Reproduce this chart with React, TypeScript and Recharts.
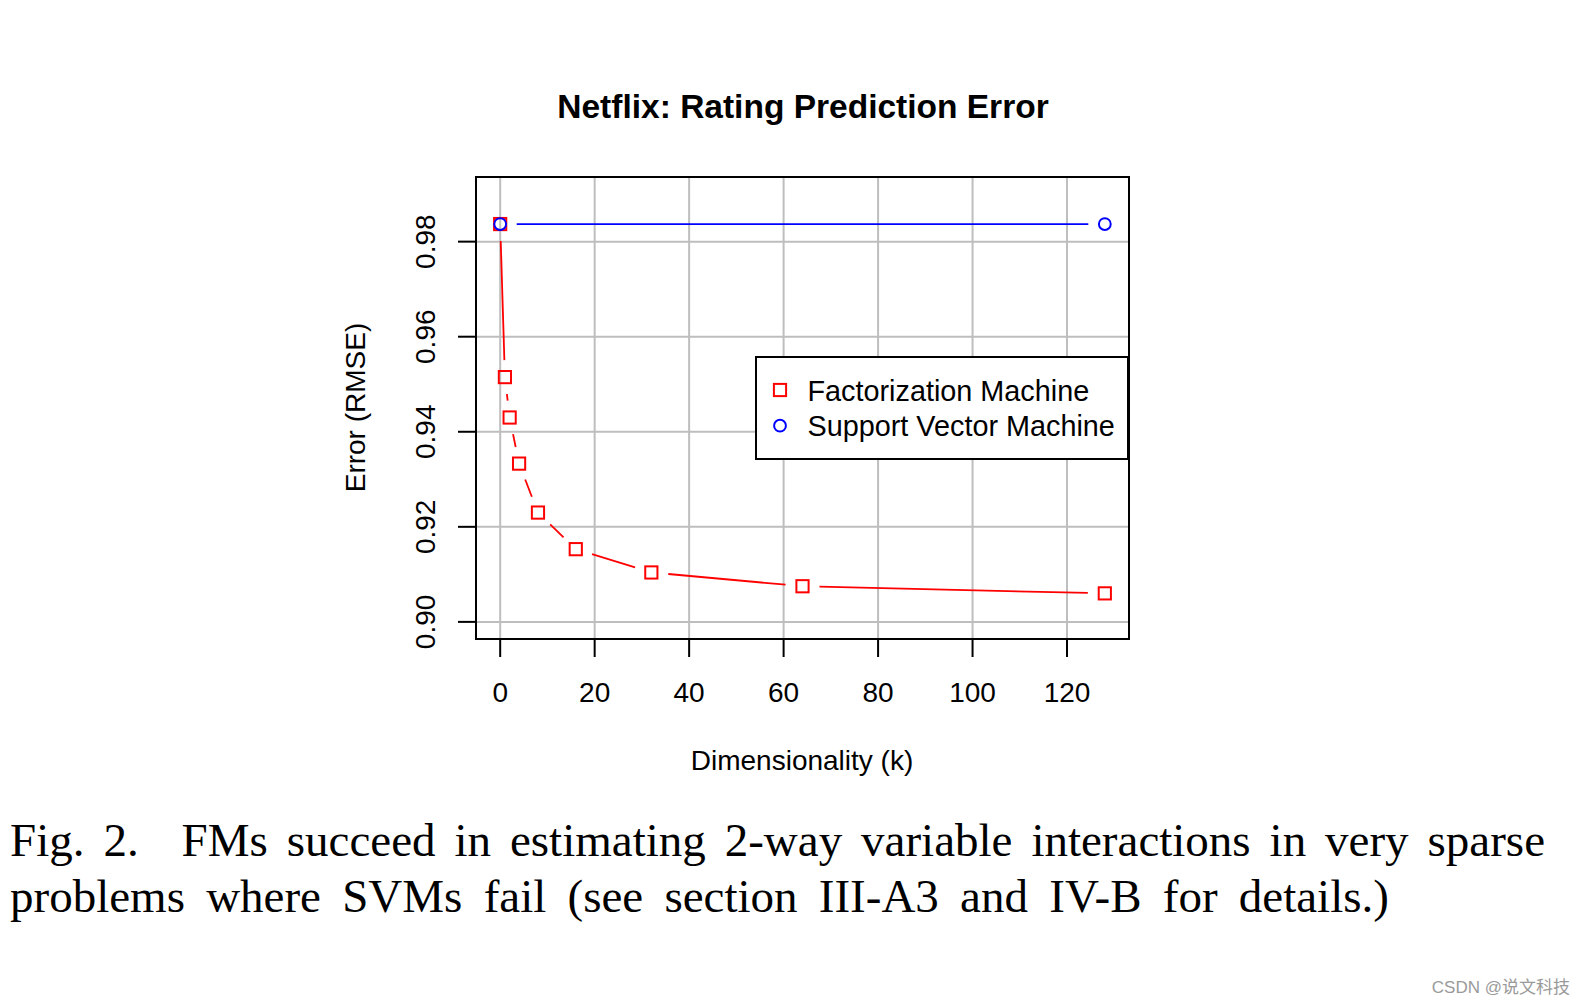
import React from 'react';
import {
  ScatterChart,
  Scatter,
  XAxis,
  YAxis,
  CartesianGrid,
  ReferenceArea,
  Legend,
} from 'recharts';

// ---------- data ----------
const KS = [0, 1, 2, 4, 8, 16, 32, 64, 128];
const FM_RMSE = [0.9837, 0.9515, 0.943, 0.9333, 0.923, 0.9153, 0.9104, 0.9075, 0.906];
const SVM_KS = [0, 128];
const SVM_RMSE = [0.9837, 0.9837];
const X_TICKS = [0, 20, 40, 60, 80, 100, 120];
const Y_TICKS = [0.9, 0.92, 0.94, 0.96, 0.98];
const X_DOMAIN = [-5.12, 133.12];
const Y_DOMAIN = [0.8964, 0.9936];

const TITLE = 'Netflix: Rating Prediction Error';
const X_LABEL = 'Dimensionality (k)';
const Y_LABEL = 'Error (RMSE)';
const FM_NAME = 'Factorization Machine';
const SVM_NAME = 'Support Vector Machine';
const CAPTION_1_HEAD = 'Fig. 2.';
const CAPTION_1_REST = 'FMs succeed in estimating 2-way variable interactions in very sparse';
const CAPTION_2 = 'problems where SVMs fail (see section III-A3 and IV-B for details.)';
const WATERMARK = 'CSDN @说文科技';

const fmData = KS.map((k, i) => ({ k, rmse: FM_RMSE[i] }));
const svmData = SVM_KS.map((k, i) => ({ k, rmse: SVM_RMSE[i] }));

const SANS = '"Liberation Sans", Arial, Helvetica, sans-serif';
const SERIF = '"Liberation Serif", "Times New Roman", serif';
const RED = '#FF0000';
const BLUE = '#0000FF';
const GRID = '#BEBEBE';
const SQ = 12.2;

// line drawn with gaps around the markers (R type = "b")
function GappedLine(props: any) {
  const { points, stroke, gap } = props;
  const segs: any[] = [];
  if (!points) return null;
  for (let i = 1; i < points.length; i++) {
    const p = points[i - 1];
    const q = points[i];
    const dx = q.x - p.x;
    const dy = q.y - p.y;
    const d = Math.sqrt(dx * dx + dy * dy);
    if (d <= 2 * gap) continue;
    const ux = dx / d;
    const uy = dy / d;
    segs.push(
      <line
        key={i}
        x1={p.x + ux * gap}
        y1={p.y + uy * gap}
        x2={q.x - ux * gap}
        y2={q.y - uy * gap}
        stroke={stroke}
        strokeWidth={1.8}
      />
    );
  }
  return <g>{segs}</g>;
}

const SquareMark = (p: any) => (
  <rect
    x={p.cx - SQ / 2}
    y={p.cy - SQ / 2}
    width={SQ}
    height={SQ}
    fill="none"
    stroke={RED}
    strokeWidth={2}
  />
);

const CircleMark = (p: any) => (
  <circle cx={p.cx} cy={p.cy} r={5.9} fill="none" stroke={BLUE} strokeWidth={2} />
);

const XTick = (p: any) => (
  <text
    x={p.x}
    y={p.y + 44.5}
    textAnchor="middle"
    fontFamily={SANS}
    fontSize={28}
    fill="#000"
  >
    {p.payload.value}
  </text>
);

const YTick = (p: any) => {
  const x = p.x - 23;
  const y = p.y;
  return (
    <text
      x={x}
      y={y}
      transform={`rotate(-90, ${x}, ${y})`}
      textAnchor="middle"
      fontFamily={SANS}
      fontSize={28}
      fill="#000"
    >
      {Number(p.payload.value).toFixed(2)}
    </text>
  );
};

const LegendBox = () => (
  <svg width={374} height={104} style={{ display: 'block' }}>
    <rect x={1} y={1} width={372} height={102} fill="#fff" stroke="#000" strokeWidth={2} />
    <rect x={25 - SQ / 2} y={34 - SQ / 2} width={SQ} height={SQ} fill="none" stroke={RED} strokeWidth={2} />
    <text x={52.5} y={44.7} fontFamily={SANS} fontSize={28.8} fill="#000">
      {FM_NAME}
    </text>
    <circle cx={25} cy={69.7} r={5.9} fill="none" stroke={BLUE} strokeWidth={2} />
    <text x={52.5} y={80} fontFamily={SANS} fontSize={28.8} fill="#000">
      {SVM_NAME}
    </text>
  </svg>
);

export default function App() {
  return (
    <div
      style={{
        position: 'absolute',
        left: 0,
        top: 0,
        width: 1586,
        height: 1006,
        background: '#fff',
        overflow: 'hidden',
      }}
    >
      <div style={{ position: 'absolute', left: 0, top: 0 }}>
        <ScatterChart
          width={1586}
          height={1006}
          margin={{ top: 177, right: 457, bottom: 307, left: 416 }}
        >
          <CartesianGrid stroke={GRID} strokeWidth={2} />
          <XAxis
            dataKey="k"
            type="number"
            domain={X_DOMAIN}
            ticks={X_TICKS}
            allowDataOverflow
            height={60}
            axisLine={false}
            tickSize={18}
            tickMargin={0}
            tickLine={{ stroke: '#000', strokeWidth: 2 }}
            tick={<XTick />}
            interval={0}
          />
          <YAxis
            dataKey="rmse"
            type="number"
            domain={Y_DOMAIN}
            ticks={Y_TICKS}
            allowDataOverflow
            width={60}
            axisLine={false}
            tickSize={18}
            tickMargin={0}
            tickLine={{ stroke: '#000', strokeWidth: 2 }}
            tick={<YTick />}
            interval={0}
          />
          <ReferenceArea
            x1={X_DOMAIN[0]}
            x2={X_DOMAIN[1]}
            y1={Y_DOMAIN[0]}
            y2={Y_DOMAIN[1]}
            fill="none"
            fillOpacity={0}
            stroke="#000"
            strokeWidth={2}
            ifOverflow="visible"
          />
          <Scatter
            name={FM_NAME}
            data={fmData}
            isAnimationActive={false}
            fill={RED}
            shape={SquareMark}
            line={(lp: any) => <GappedLine points={lp.points} stroke={RED} gap={17} />}
            lineType="joint"
          />
          <Scatter
            name={SVM_NAME}
            data={svmData}
            isAnimationActive={false}
            fill={BLUE}
            shape={CircleMark}
            line={(lp: any) => <GappedLine points={lp.points} stroke={BLUE} gap={16.5} />}
            lineType="joint"
          />
          <Legend
            layout="vertical"
            align="center"
            verticalAlign="middle"
            content={<LegendBox />}
            wrapperStyle={{ position: 'absolute', left: 755, top: 356, width: 374, height: 104 }}
          />
        </ScatterChart>
      </div>

      <svg
        width={1586}
        height={1006}
        style={{ position: 'absolute', left: 0, top: 0, pointerEvents: 'none' }}
      >
        <text
          x={803}
          y={118}
          textAnchor="middle"
          fontFamily={SANS}
          fontWeight="bold"
          fontSize={33.5}
          fill="#000"
        >
          {TITLE}
        </text>
        <text x={802} y={769.5} textAnchor="middle" fontFamily={SANS} fontSize={28} fill="#000">
          {X_LABEL}
        </text>
        <text
          x={365}
          y={407.5}
          transform="rotate(-90, 365, 407.5)"
          textAnchor="middle"
          fontFamily={SANS}
          fontSize={28}
          fill="#000"
        >
          {Y_LABEL}
        </text>
        <text
          x={1570}
          y={992.5}
          textAnchor="end"
          fontFamily={'"Liberation Sans", Arial, "Noto Sans CJK SC", sans-serif'}
          fontSize={17}
          fill="#9a9a9a"
        >
          {WATERMARK}
        </text>
      </svg>

      <div
        style={{
          position: 'absolute',
          left: 10,
          top: 816.6,
          width: 1535,
          fontFamily: SERIF,
          fontSize: 47,
          lineHeight: '47px',
          color: '#000',
          textAlign: 'justify',
          textAlignLast: 'justify',
        }}
      >
        <span style={{ marginRight: 24 }}>{CAPTION_1_HEAD}</span> {CAPTION_1_REST}
      </div>
      <div
        style={{
          position: 'absolute',
          left: 10,
          top: 872.6,
          fontFamily: SERIF,
          fontSize: 47,
          lineHeight: '47px',
          color: '#000',
          whiteSpace: 'nowrap',
          wordSpacing: '9.5px',
        }}
      >
        {CAPTION_2}
      </div>
    </div>
  );
}
